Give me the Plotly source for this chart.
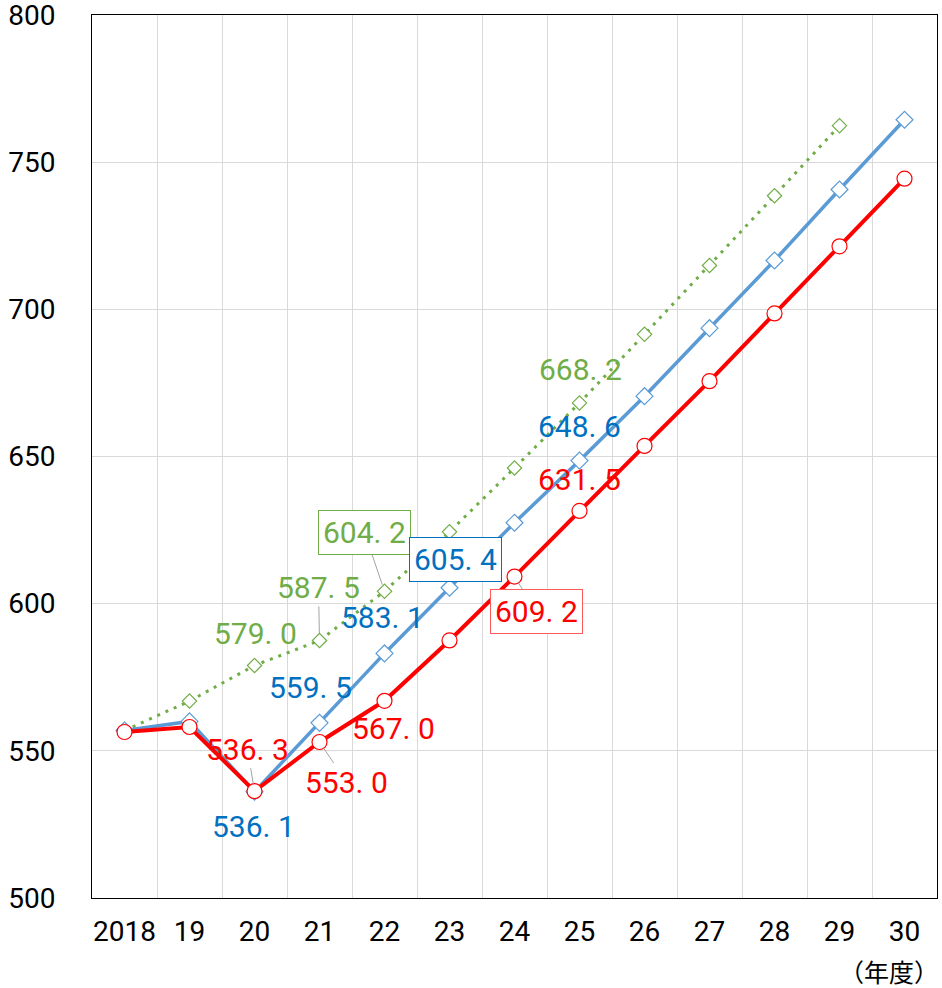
import plotly.graph_objects as go

# Fiscal years (x categories)
years = ["2018", "19", "20", "21", "22", "23", "24", "25", "26", "27", "28", "29", "30"]

# Series values
red_vals = [556.4, 558.1, 536.3, 553.0, 567.0, 587.5, 609.2, 631.5, 653.6, 675.6, 698.6, 721.4, 744.4]
blue_vals = [556.9, 560.0, 536.1, 559.5, 583.1, 605.4, 627.5, 648.6, 670.5, 693.6, 716.6, 740.7, 764.4]
green_vals = [556.9, 566.9, 579.0, 587.5, 604.2, 624.4, 646.1, 668.2, 691.5, 714.9, 738.6, 762.4]

# Indices of points carrying a value label
red_labeled = [2, 3, 4, 6, 7]
blue_labeled = [2, 3, 4, 5, 7]
green_labeled = [2, 3, 4, 7]

RED = "#FF0000"
BLUE_LINE = "#5B9BD5"
BLUE_TEXT = "#0070C0"
GREEN = "#70AD47"

NUM_FONT = "Roboto, Arial, sans-serif"
LABEL_SIZE = 30

xs = list(range(len(years)))

fig = go.Figure()

fig.add_trace(go.Scatter(
    x=xs[:len(green_vals)], y=green_vals, mode="lines+markers",
    line=dict(color=GREEN, width=3, dash="3px,6px"),
    marker=dict(symbol="diamond", size=11, color="white", line=dict(color=GREEN, width=1.2)),
    showlegend=False, hoverinfo="skip",
))
fig.add_trace(go.Scatter(
    x=xs, y=blue_vals, mode="lines+markers",
    line=dict(color=BLUE_LINE, width=3.5),
    marker=dict(symbol="diamond", size=13, color="white", line=dict(color=BLUE_LINE, width=1.2)),
    showlegend=False, hoverinfo="skip",
))
fig.add_trace(go.Scatter(
    x=xs, y=red_vals, mode="lines+markers",
    line=dict(color=RED, width=4),
    marker=dict(symbol="circle", size=15, color="white", line=dict(color=RED, width=1.2)),
    showlegend=False, hoverinfo="skip",
))


def fmt(v):
    return f"{v:.1f}".replace(".", ". ")


# placement of each label relative to its point: (dx, dy) in pixels (dy down),
# leader line flag, boxed flag
placements = {
    ("g", 2): (1, -32, False, False),
    ("g", 3): (-1, -53, True, False),
    ("g", 4): (-20, -59, True, True),
    ("g", 7): (1, -33, False, False),
    ("b", 2): (-1, 35, False, False),
    ("b", 3): (-9, -35, False, False),
    ("b", 4): (-2, -36, False, False),
    ("b", 5): (6, -28, False, True),
    ("b", 7): (0, -34, False, False),
    ("r", 2): (-7, -42, True, False),
    ("r", 3): (27, 40, True, False),
    ("r", 4): (9, 28, False, False),
    ("r", 6): (22, 35, True, True),
    ("r", 7): (0, -31, False, False),
}

series = [
    ("g", green_vals, green_labeled, GREEN, GREEN),
    ("b", blue_vals, blue_labeled, BLUE_TEXT, BLUE_TEXT),
    ("r", red_vals, red_labeled, RED, "#FF5B5B"),
]

for key, vals, idxs, tcolor, bcolor in series:
    for i in idxs:
        dx, dy, leader, boxed = placements[(key, i)]
        ann = dict(
            x=xs[i], y=vals[i], text=fmt(vals[i]),
            font=dict(family=NUM_FONT, size=LABEL_SIZE, color=tcolor),
        )
        if boxed:
            ann.update(bordercolor=bcolor, borderwidth=1, borderpad=4, bgcolor="white")
        if leader or boxed:
            ann.update(showarrow=True, arrowhead=0, arrowwidth=0.8,
                       arrowcolor="#8c8c8c" if leader else "rgba(0,0,0,0)",
                       ax=dx, ay=dy, axref="pixel", ayref="pixel", standoff=7)
        else:
            ann.update(showarrow=False, xshift=dx, yshift=-dy)
        fig.add_annotation(**ann)

fig.add_annotation(
    x=1, xref="paper", y=0, yref="paper", yshift=-53, xshift=4,
    xanchor="right", yanchor="top",
    text="（年度）", showarrow=False,
    font=dict(family="Noto Sans CJK JP", size=25, color="black"),
)

fig.update_layout(
    width=942, height=988,
    margin=dict(l=92, r=5, t=15, b=90, autoexpand=False),
    paper_bgcolor="white", plot_bgcolor="white",
    xaxis=dict(
        range=[-0.5, len(years) - 0.5],
        tickmode="array", tickvals=xs, ticktext=years,
        showgrid=False, zeroline=False, automargin=False,
        showline=True, linecolor="black", linewidth=1, mirror=True,
        ticks="", ticklabelstandoff=8,
        tickfont=dict(family=NUM_FONT, size=28, color="black"),
        minor=dict(tick0=0.5, dtick=1, showgrid=True, gridcolor="#d9d9d9", gridwidth=1),
    ),
    yaxis=dict(
        range=[500, 800], dtick=50,
        showgrid=True, gridcolor="#d9d9d9", gridwidth=1, zeroline=False, automargin=False,
        showline=True, linecolor="black", linewidth=1, mirror=True,
        ticks="", ticklabelstandoff=30, ticklabeloverflow="allow",
        tickfont=dict(family=NUM_FONT, size=28, color="black"),
    ),
)

fig.write_html("out.html")
